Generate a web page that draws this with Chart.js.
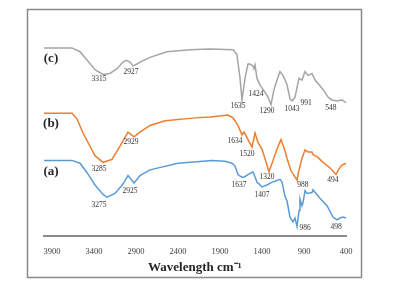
<!DOCTYPE html>
<html>
<head>
<meta charset="utf-8">
<script src="https://cdn.jsdelivr.net/npm/chart.js@4"></script>
<style>
  body { margin: 0; background: #fff; }
  #chart { display: block; }
</style>
</head>
<body>
<canvas id="chart" width="419" height="303" style="width:419px;height:303px"></canvas>
<script>
// x tick labels (wavenumber, axis reversed)
const xTicks = [3900, 3400, 2900, 2400, 1900, 1400, 900, 400];

// (c) grey spectrum
const cWavenumber = [3995, 3662, 3567, 3471, 3388, 3293, 3210, 3126, 3055, 3019, 2971, 2936, 2888, 2852, 2733, 2531, 2257, 2019, 1745, 1698, 1662, 1638, 1602, 1567, 1543, 1507, 1495, 1483, 1460, 1424, 1364, 1329, 1293, 1257, 1221, 1186, 1150, 1102, 1067, 1043, 1031, 1007, 959, 924, 888, 852, 805, 769, 710, 650, 614, 567, 507, 448, 400];
const cTransmittance = [99.5, 99.5, 97.5, 92.5, 88, 85.5, 86, 88.5, 92, 93, 92, 90, 91, 92, 94.5, 97.5, 98.5, 99, 98.5, 96, 83.5, 72, 83.5, 91, 91, 90, 88.5, 90.5, 83.5, 80, 76, 73.5, 69.5, 77.5, 82.5, 87, 85, 80, 72.5, 71.5, 72, 73.5, 83.5, 82.5, 87, 85, 86, 82.5, 79.5, 76, 73.5, 72, 71.5, 72, 70.5];

// (b) orange spectrum
const bWavenumber = [3995, 3662, 3603, 3531, 3448, 3388, 3293, 3186, 3090, 2995, 2924, 2852, 2733, 2555, 2198, 2019, 1805, 1745, 1686, 1638, 1614, 1579, 1519, 1483, 1448, 1400, 1317, 1269, 1221, 1174, 1126, 1102, 1055, 983, 971, 948, 924, 888, 852, 805, 793, 745, 686, 590, 519, 483, 448, 400];
const bTransmittance = [65, 65, 62, 54.5, 47.5, 42.5, 39, 40.5, 47.5, 55, 52.5, 55, 58.5, 61, 62.5, 63, 64, 62.5, 58.5, 53.5, 55, 52, 47, 54.5, 49.5, 46, 34, 40, 46, 51, 45, 41, 34.5, 29.5, 32.5, 37, 41, 45.5, 44.5, 44.5, 43, 42, 39.5, 36, 32.5, 35.5, 37.5, 38.5];

// (a) blue spectrum
const aWavenumber = [3995, 3662, 3567, 3483, 3388, 3293, 3245, 3150, 3055, 2995, 2924, 2852, 2733, 2400, 1995, 1840, 1757, 1721, 1686, 1638, 1602, 1567, 1507, 1460, 1400, 1340, 1281, 1245, 1186, 1162, 1126, 1102, 1067, 1031, 1007, 983, 959, 948, 924, 912, 888, 864, 805, 793, 757, 710, 626, 555, 507, 471, 436, 400];
const aTransmittance = [40, 40, 38.5, 33.5, 27, 22, 20.5, 22.5, 27.5, 32, 28, 32, 35, 38.5, 40, 39.5, 38.5, 37, 32.5, 31, 31.5, 32.5, 34, 28.5, 26, 27, 28.5, 29, 30, 28.5, 21, 18.5, 10, 7.5, 9.5, 5, 13.5, 19.5, 16, 17.5, 24, 22.5, 23, 24.5, 22.5, 20, 16, 10, 8.5, 9.5, 10, 9.5];

// peak annotations: text, and where the text sits (wavenumber, transmittance)
const peakText = ['3315', '2927', '1635', '1424', '1290', '1043', '991', '548',
                  '3285', '2929', '1634', '1520', '1320', '988', '494',
                  '3275', '2925', '1637', '1407', '986', '498'];
const peakWn = [3340, 2960, 1686, 1471, 1340, 1043, 876, 579,
                3340, 2960, 1721, 1579, 1340, 912, 555,
                3340, 2971, 1674, 1400, 888, 519];
const peakT = [83, 86.5, 69, 75, 66, 67, 70.5, 67.5,
               35.5, 49.5, 50, 43.5, 31, 27, 29.5,
               16.5, 24, 27, 21.5, 4, 5];

// series names
const seriesNames = ['(c)', '(b)', '(a)'];
const seriesNameT = [94, 59.5, 34];
const seriesNameWn = 3912;

const serif = "'Liberation Serif', 'Times New Roman', serif";

const toPoints = (wn, t) => wn.map((w, i) => ({ x: w, y: t[i] }));

const framePlugin = {
  id: 'frame',
  beforeDraw(chart) {
    const ctx = chart.ctx;
    ctx.save();
    ctx.strokeStyle = '#8a8a8a';
    ctx.lineWidth = 1.5;
    ctx.strokeRect(27.5, 9.5, 334, 268);
    ctx.restore();
  }
};

const labelsPlugin = {
  id: 'peakLabels',
  afterDatasetsDraw(chart) {
    const { ctx, scales } = chart;
    ctx.save();
    ctx.textAlign = 'center';
    ctx.textBaseline = 'middle';
    ctx.fillStyle = '#333';
    ctx.font = '7.5px ' + serif;
    peakText.forEach((txt, i) => {
      ctx.fillText(txt, scales.x.getPixelForValue(peakWn[i]), scales.y.getPixelForValue(peakT[i]));
    });
    ctx.font = 'bold 13px ' + serif;
    ctx.fillStyle = '#262626';
    seriesNames.forEach((name, i) => {
      ctx.fillText(name, scales.x.getPixelForValue(seriesNameWn), scales.y.getPixelForValue(seriesNameT[i]));
    });
    ctx.restore();
  }
};

const lineStyle = (color) => ({
  borderColor: color,
  backgroundColor: color,
  borderWidth: 1.5,
  pointRadius: 0,
  tension: 0,
  fill: false,
  clip: false,
});

new Chart(document.getElementById('chart'), {
  type: 'line',
  data: {
    datasets: [
      { label: '(c)', data: toPoints(cWavenumber, cTransmittance), ...lineStyle('#a5a5a5') },
      { label: '(b)', data: toPoints(bWavenumber, bTransmittance), ...lineStyle('#ed7d31') },
      { label: '(a)', data: toPoints(aWavenumber, aTransmittance), ...lineStyle('#5b9bd5') },
    ]
  },
  options: {
    responsive: false,
    animation: false,
    layout: { padding: { left: 43.6, right: 73, top: 47, bottom: 27.2 } },
    plugins: { legend: { display: false }, tooltip: { enabled: false } },
    scales: {
      x: {
        type: 'linear',
        reverse: true,
        min: 400,
        max: 4000,
        afterBuildTicks: (scale) => { scale.ticks = xTicks.map(v => ({ value: v })); },
        ticks: {
          font: { family: serif, size: 8.5 },
          color: '#404040',
          padding: 3,
          maxRotation: 0,
          autoSkip: false,
          callback: (value) => String(value),
        },
        grid: { display: false },
        border: { display: true, color: '#8c8c8c', width: 2 },
        title: {
          display: true,
          text: 'Wavelength cm⁻¹',
          font: { family: serif, size: 13, weight: 'bold' },
          color: '#262626',
          padding: { top: 0, bottom: 0 },
        },
      },
      y: { display: false, min: 0, max: 100 },
    },
  },
  plugins: [framePlugin, labelsPlugin],
});
</script>
</body>
</html>
